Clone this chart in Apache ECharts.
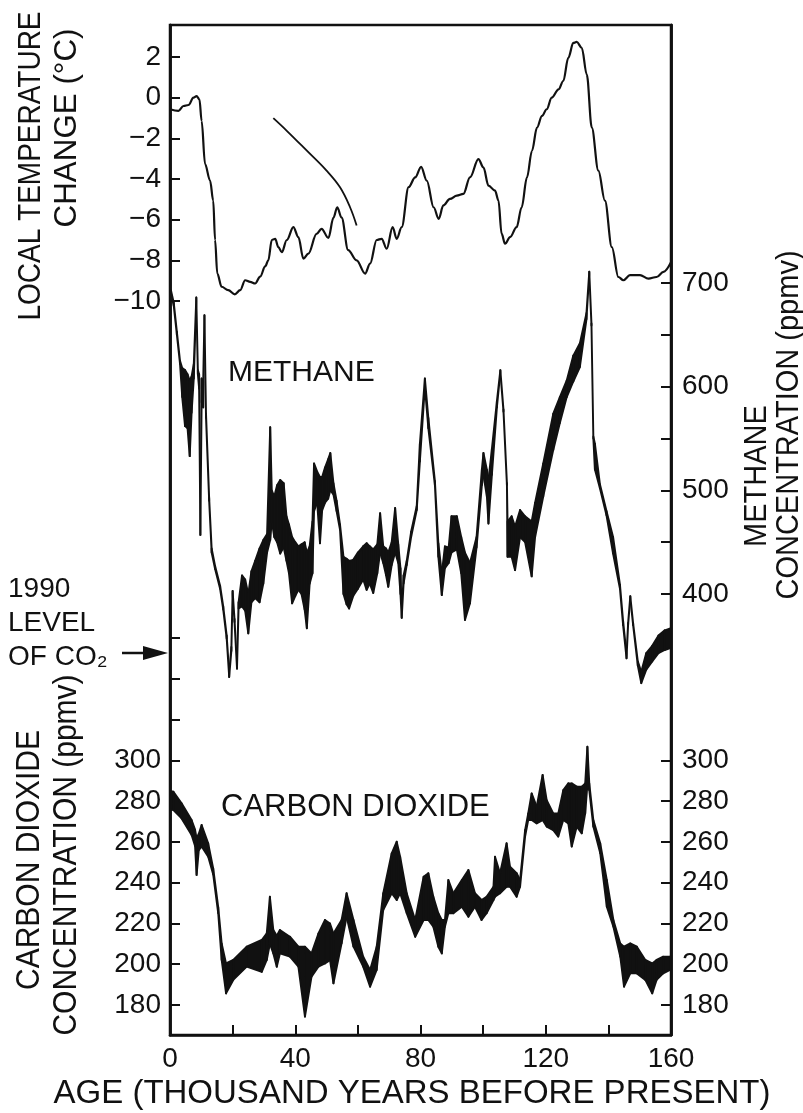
<!DOCTYPE html>
<html>
<head>
<meta charset="utf-8">
<script src="https://cdn.jsdelivr.net/npm/echarts@6/dist/echarts.min.js"></script>
<style>
html,body{margin:0;padding:0;background:#fff;}
#chart{width:803px;height:1113px;}
</style>
</head>
<body>
<div id="chart"></div>
<script>
// ---------- DATA ----------
// Local temperature change (°C) vs age (thousand years BP)
const tempAge = [0,2.7,4.3,5.9,7.5,8.5,9.4,10.1,11.2,12.8,13.8,14.4,15.1,16.5,18.6,20.7,22.4,24.0,25.6,27.2,28.8,30.4,31.4,32.5,33.6,34.6,35.7,37.3,39.4,41.0,42.6,44.2,46.8,48.4,50.6,52.2,53.4,54.8,56.9,59.6,62.3,63.9,66.0,67.6,69.2,71.1,72.4,74.0,76.2,78.3,80.2,82.0,84.2,85.8,87.3,89.4,91.6,93.7,95.8,98.5,100.1,101.7,103.8,104.9,105.9,107.0,108.6,110.7,112.3,114.0,115.6,117.2,118.8,120.3,121.9,124.1,125.6,127.2,128.8,129.9,131.5,133.1,134.7,136.8,138.9,141.1,143.2,144.8,146.9,150.1,152.8,155.4,157.6,160];
const tempVal = [-0.57,-0.65,-0.41,-0.36,0,0.08,-0.08,-1.14,-3.27,-4.08,-5.06,-7.0,-8.65,-9.3,-9.47,-9.67,-9.47,-8.98,-9.06,-9.14,-8.8,-8.3,-8.0,-7.0,-6.94,-7.35,-7.6,-7.0,-6.37,-6.86,-7.92,-7.67,-6.7,-6.45,-6.9,-5.9,-5.39,-5.9,-7.5,-8.0,-8.65,-8.16,-7.0,-6.94,-7.43,-6.37,-6.94,-6.37,-4.4,-3.92,-3.4,-4.08,-5.39,-5.96,-5.3,-4.98,-4.82,-4.73,-3.92,-3.02,-3.43,-4.33,-4.57,-5.06,-6.69,-7.18,-6.86,-6.37,-5.39,-3.92,-2.61,-1.47,-0.9,-0.57,0,0.41,0.82,1.96,2.69,2.74,2.45,1.14,-1.47,-3.59,-5.06,-7.35,-8.82,-8.98,-8.73,-8.73,-8.9,-8.82,-8.57,-8.1];
// Stray diagonal trace in the temperature panel
const traceAge = [33.0,37.3,43.7,50.0,54.3,57.5,59.6];
const traceVal = [-1.01,-1.63,-2.61,-3.59,-4.41,-5.39,-6.29];

// Methane (ppmv) band: lower and upper envelope
const methAge = [0.3,1.2,2.2,3.2,3.9,4.8,5.6,6.3,6.9,7.6,8.4,8.9,9.3,9.7,10.1,10.6,11.0,11.5,12.5,13.3,14.4,16.0,17.0,18.1,18.9,19.6,20.0,20.6,21.4,21.9,23.0,24.0,25.0,26.0,27.2,28.6,29.8,31.0,32.0,32.5,33.3,34.2,35.2,36.3,37.2,38.0,39.0,40.0,41.0,42.0,43.0,43.7,44.6,45.5,46.0,47.0,47.9,48.6,49.5,50.5,51.2,52.2,53.2,54.3,55.4,56.4,57.2,58.5,60.0,61.7,62.8,63.8,64.9,66.2,67.1,68.1,69.0,69.7,70.8,71.9,72.9,73.6,74.0,74.6,75.6,77.0,78.8,79.8,81.4,82.5,84.6,85.7,86.8,87.8,89.0,89.9,91.6,93.0,94.2,95.8,97.9,99.6,100.1,101.2,101.7,102.8,104.4,105.5,106.5,107.6,107.8,109.1,110.2,111.8,113.4,115.5,116.6,119.2,122.4,124.5,126.7,128.8,130.9,133.0,133.9,134.6,135.2,135.7,137.3,139.4,141.5,143.7,144.7,145.8,146.3,147.0,147.9,149.4,150.5,152.1,154.0,156.0,158.0,160.0];
const methLow = [690,678,650,622,590,562,560,533,575,608,683,612,598,457,585,580,667,570,490,440,424,405,385,357,320,345,400,373,328,386,388,384,362,392,396,392,410,440,452,470,455,450,439,445,432,420,391,398,404,400,385,367,410,420,480,488,449,481,488,492,500,496,480,462,400,390,386,398,405,414,404,410,401,420,440,430,418,407,428,440,430,400,377,410,428,455,481,528,600,560,505,436,399,425,430,440,443,420,375,391,445,505,515,494,468,515,580,614,576,505,436,436,423,455,450,417,455,494,539,565,590,605,619,665,709,659,550,520,502,476,439,405,370,338,370,396,370,331,314,327,335,343,346,348];
const methHigh = [693,681,653,625,618,616,612,606,610,622,686,616,612,460,608,605,669,574,493,444,427,408,388,360,324,349,403,376,331,392,418,414,400,422,432,444,452,458,561,500,494,505,510,507,475,467,455,450,446,448,450,440,446,470,526,518,513,513,522,530,536,507,490,467,436,434,432,433,440,446,449,446,443,448,478,446,444,440,450,483,448,425,380,418,432,460,485,545,608,570,509,449,420,446,445,475,475,455,440,430,455,520,536,520,510,540,586,616,578,507,470,475,465,481,475,470,488,526,574,590,606,630,642,671,711,661,552,545,506,480,455,409,374,342,372,398,372,335,325,343,350,360,365,367];

// Carbon dioxide (ppmv) band: lower and upper envelope
const co2Age = [0,1.1,3.7,6.9,8.0,8.5,9.2,10.1,12.2,13.8,15.4,16.5,17.9,20.2,24.5,29.3,30.9,31.9,33.0,34.1,35.1,38.3,41.0,43.1,45.2,47.4,49.5,51.1,52.2,54.8,56.4,58.6,61.7,63.9,66.0,68.1,70.8,72.4,73.5,75.6,78.3,81.0,82.5,84.1,85.7,86.8,87.8,88.9,90.5,93.2,95.3,97.4,99.5,101.1,103.3,103.8,105.4,107.5,108.6,110.7,111.8,113.4,114.4,115.5,117.1,119.0,120.3,122.4,124.0,125.6,127.2,128.3,129.9,131.5,132.6,133.3,133.9,135.2,137.4,139.5,141.6,143.8,145.0,147.0,149.1,151.8,154.0,155.4,157.5,159.7,160];
const co2Low = [276,275.6,271.5,263.4,258,243.8,256,257.7,252.7,244,225,202.1,185.7,192.3,198.8,196.3,202.1,210,205.3,198.8,205.3,203.7,198.8,174.3,193.9,198.8,200.4,202,190.6,210.2,223.3,208.6,198.8,189,197.2,226.6,234.8,231.5,234.8,225,213.5,221.7,221.7,218.4,208.6,205.3,218.4,225,225,228.2,223.3,228.2,221.7,225,231.5,233.1,234.8,238,238,233.1,238,262.6,270.7,270.7,269.1,270.7,267.5,265.8,262.6,270.7,269.1,257.7,267.5,264.2,274,288,285.4,267.5,254.4,228.2,218.4,203.7,189,195.5,195.5,192.3,185.7,192.3,195.5,197.2,198];
const co2High = [285,284.6,278.9,270.7,266,261.7,264,268.3,259.3,247,228,210.2,200.4,202.1,208.6,211.9,215.1,233.1,216.8,214,216.8,213.5,208.6,208.6,205.3,215.1,221.7,220,215.1,221.7,234.8,221.7,203.7,197.2,208.6,234.8,254.4,260.1,252.7,234.8,221.7,242.9,244.6,233.1,225,221.7,221.7,241.3,234.8,241.3,246.2,234.8,231.5,233.1,238,252.7,244.6,259.3,247.8,244.6,241.3,265.8,274,283.8,277.3,292.8,280.5,274,274,285.4,288.7,288.7,287.1,287.1,288.7,306.7,288.7,270.7,259.3,241.3,221.7,210.2,208.6,210.2,208.6,202.1,200.4,202.1,203.7,203.7,204];

// Tick values
const ageLabels = [0,40,80,120,160];
const tempTicks = [2,0,-2,-4,-6,-8,-10];
const methTicks = [400,450,500,550,600,650,700];
const methLabels = [400,500,600,700];
const co2LeftTicks = [180,200,220,240,260,280,300,320,340,360];
const co2Labels = [180,200,220,240,260,280,300];

// ---------- CHART ----------
const FONT = "'Liberation Sans', Arial, Helvetica, sans-serif";
const INK = '#111';
const chart = echarts.init(document.getElementById('chart'), null, {renderer:'canvas'});

function pairs(xs, ys){ return xs.map((x,i)=>[x, ys[i]]); }
function bandSeries(name, xs, lo, hi, yAxisIndex){
  const data = [];
  for (let i = 0; i < xs.length - 1; i++) {
    data.push([xs[i], lo[i], hi[i], xs[i+1], lo[i+1], hi[i+1]]);
  }
  return {
    type:'custom', name, yAxisIndex, coordinateSystem:'cartesian2d',
    encode:{x:[0,3], y:[1,2,4,5]},
    silent:true, animation:false,
    renderItem(params, api){
      const a = api.coord([api.value(0), api.value(1)]);
      const b = api.coord([api.value(0), api.value(2)]);
      const c = api.coord([api.value(3), api.value(5)]);
      const d = api.coord([api.value(3), api.value(4)]);
      return {type:'polygon', shape:{points:[a,b,c,d]},
        style:{fill:INK, stroke:INK, lineWidth:1.9, lineJoin:'round'}};
    },
    data
  };
}
const tickStyle = {show:true, inside:true, length:10, lineStyle:{color:INK, width:2}};
const lblBase = {color:INK, fontSize:28, fontFamily:FONT};
const fmtSigned = v => (v < 0 ? '\u2212' + Math.abs(v) : String(v));
const axisLineStyle = {show:true, onZero:false, lineStyle:{color:INK, width:2.5}};

function vText(text, x, y, size, sx, sy){
  return {type:'text', x, y, rotation:Math.PI/2, scaleX:sx||1, scaleY:sy||1,
    style:{text, font:size+'px '+FONT, fill:INK, textAlign:'center', textVerticalAlign:'middle'}};
}
function hText(text, x, y, size, align){
  return {type:'text', x, y,
    style:{text, font:size+'px '+FONT, fill:INK, textAlign:align||'left', textVerticalAlign:'middle'}};
}

const option = {
  backgroundColor:'#fff',
  animation:false,
  grid:{left:170, right:132, top:25, bottom:78, show:true, borderColor:INK, borderWidth:2.5, backgroundColor:'transparent'},
  xAxis:[{
    type:'value', min:0, max:160, interval:20,
    axisLine:axisLineStyle,
    axisTick:tickStyle,
    axisLabel:Object.assign({}, lblBase, {margin:10, customValues:ageLabels}),
    splitLine:{show:false}
  }],
  yAxis:[
    { // temperature
      type:'value', position:'left', min:-46.10, max:3.574,
      axisLine:axisLineStyle,
      axisTick:Object.assign({}, tickStyle, {customValues:tempTicks}),
      axisLabel:Object.assign({}, lblBase, {margin:9, customValues:tempTicks, formatter:fmtSigned}),
      splitLine:{show:false}
    },
    { // methane
      type:'value', position:'right', min:-25.4, max:948.9,
      axisLine:axisLineStyle,
      axisTick:Object.assign({}, tickStyle, {customValues:methTicks}),
      axisLabel:Object.assign({}, lblBase, {margin:11, customValues:methLabels}),
      splitLine:{show:false}
    },
    { // CO2 left
      type:'value', position:'left', min:165.29, max:660.65,
      axisLine:axisLineStyle,
      axisTick:Object.assign({}, tickStyle, {customValues:co2LeftTicks}),
      axisLabel:Object.assign({}, lblBase, {margin:9, customValues:co2Labels}),
      splitLine:{show:false}
    },
    { // CO2 right
      type:'value', position:'right', min:165.29, max:660.65,
      axisLine:axisLineStyle,
      axisTick:Object.assign({}, tickStyle, {customValues:co2Labels}),
      axisLabel:Object.assign({}, lblBase, {margin:11, customValues:co2Labels}),
      splitLine:{show:false}
    }
  ],
  series:[
    {type:'line', name:'Temperature', yAxisIndex:0, data:pairs(tempAge, tempVal),
     showSymbol:false, smooth:0.35, smoothMonotone:'x', silent:true,
     lineStyle:{color:INK, width:2.2}},
    {type:'line', name:'Trace', yAxisIndex:0, data:pairs(traceAge, traceVal),
     showSymbol:false, smooth:0.4, silent:true,
     lineStyle:{color:INK, width:1.8}},
    bandSeries('Methane', methAge, methLow, methHigh, 1),
    bandSeries('Carbon dioxide', co2Age, co2Low, co2High, 2)
  ],
  graphic:[
    vText('LOCAL TEMPERATURE', 31, 166, 28, 1, 1.12),
    vText('CHANGE (°C)', 67, 128, 28, 1.12, 1.12),
    vText('CARBON DIOXIDE', 30, 860, 30, 1, 1.08),
    vText('CONCENTRATION (ppmv)', 67, 855, 30, 1, 1.08),
    vText('METHANE', 758, 476, 29, 1, 1.05),
    vText('CONCENTRATION (ppmv)', 790, 425, 29, 1, 1.05),
    hText('METHANE', 228, 373, 30),
    hText('CARBON DIOXIDE', 221, 807, 31),
    hText('1990', 8, 589, 28),
    hText('LEVEL', 8, 623, 28),
    hText('OF CO\u2082', 8, 657, 28),
    hText('AGE (THOUSAND YEARS BEFORE PRESENT)', 412, 1094, 33, 'center'),
    {type:'line', shape:{x1:122, y1:653, x2:150, y2:653}, style:{stroke:INK, lineWidth:2.5}},
    {type:'polygon', shape:{points:[[143,646],[168,653],[143,660]]}, style:{fill:INK}}
  ]
};
chart.setOption(option);
</script>
</body>
</html>
